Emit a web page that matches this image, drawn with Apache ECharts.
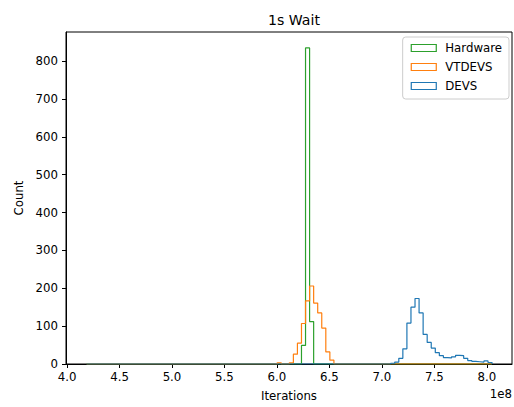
<!DOCTYPE html>
<html>
<head>
<meta charset="utf-8">
<script src="https://cdn.jsdelivr.net/npm/echarts@6/dist/echarts.min.js"></script>
<style>
html,body{margin:0;padding:0;background:#fff;}
#chart{width:514px;height:407px;}
</style>
</head>
<body>
<div id="chart"></div>
<script>
// Values in units of 1e8 iterations
const binLo = 4.186;
const binHi = 8.05;
const nBins = 100;
const xTicks = [4.0, 4.5, 5.0, 5.5, 6.0, 6.5, 7.0, 7.5, 8.0];
const yTicks = [0, 100, 200, 300, 400, 500, 600, 700, 800];
const seriesNames = ['Hardware', 'VTDEVS', 'DEVS'];
const hardwareStartBin = 53;
const hardwareCounts = [49, 835, 112];
const vtdevsStartBin = 47;
const vtdevsCounts = [3, 0, 0, 3, 26, 55, 107, 167, 206, 161, 135, 95, 32, 10];
const devsStartBin = 75;
const devsCounts = [2, 5, 15, 40, 108, 150, 173, 135, 78, 57, 42, 30, 22, 17, 16, 19, 23, 22, 15, 9, 7, 6, 5, 8, 4];

const colors = ['#2ca02c', '#ff7f0e', '#1f77b4'];
const FONT = 'DejaVu Sans';
const FS = 11.75;

function stepData(startBin, counts) {
  const full = new Array(nBins).fill(0);
  counts.forEach((c, i) => { full[startBin + i] = c; });
  const w = (binHi - binLo) / nBins;
  const pts = [[binLo, 0]];
  for (let i = 0; i < nBins; i++) pts.push([binLo + i * w, full[i]]);
  pts.push([binHi, 0]);
  return pts;
}

const allData = [
  stepData(hardwareStartBin, hardwareCounts),
  stepData(vtdevsStartBin, vtdevsCounts),
  stepData(devsStartBin, devsCounts)
];

const chart = echarts.init(document.getElementById('chart'), null, {renderer: 'svg'});
chart.setOption({
  animation: false,
  backgroundColor: '#fff',
  textStyle: {fontFamily: FONT},
  title: {
    text: '1s Wait', left: 289, top: 8, textAlign: 'center',
    textStyle: {fontFamily: FONT, fontSize: 14.1, fontWeight: 'normal', color: '#000'}
  },
  grid: {left: 66, right: 2, top: 32, bottom: 43, show: true, borderColor: '#000', borderWidth: 1, backgroundColor: 'transparent'},
  legend: {
    orient: 'vertical', right: 5, top: 37,
    padding: [5, 7, 7, 8],
    itemGap: 7,
    itemWidth: 25, itemHeight: 7,
    borderColor: '#cccccc', borderWidth: 1, borderRadius: 3,
    backgroundColor: 'rgba(255,255,255,0.8)',
    textStyle: {fontFamily: FONT, fontSize: FS, color: '#000', padding: [0, 0, 0, 4]},
    data: seriesNames.map((n, i) => ({
      name: n, icon: 'rect',
      itemStyle: {color: 'rgba(0,0,0,0)', borderColor: colors[i], borderWidth: 1.2}
    }))
  },
  xAxis: {
    type: 'value', min: 3.99, max: 8.24,
    name: 'Iterations', nameLocation: 'middle', nameGap: 26,
    nameTextStyle: {fontFamily: FONT, fontSize: FS, color: '#000'},
    axisLine: {show: true, onZero: false, lineStyle: {color: '#000', width: 1}},
    axisTick: {show: true, length: 4, lineStyle: {color: '#000', width: 1}, customValues: xTicks},
    axisLabel: {show: true, margin: 7, fontFamily: FONT, fontSize: FS, color: '#000', customValues: xTicks,
      formatter: v => v.toFixed(1)},
    splitLine: {show: false}
  },
  yAxis: {
    type: 'value', min: 0, max: 877,
    name: 'Count', nameLocation: 'middle', nameGap: 38, nameRotate: 90,
    nameTextStyle: {fontFamily: FONT, fontSize: FS, color: '#000'},
    axisLine: {show: true, lineStyle: {color: '#000', width: 1}},
    axisTick: {show: true, length: 4, lineStyle: {color: '#000', width: 1}, customValues: yTicks},
    axisLabel: {show: true, margin: 8, fontFamily: FONT, fontSize: FS, color: '#000', customValues: yTicks},
    splitLine: {show: false}
  },
  graphic: [{
    type: 'text', right: 2, top: 388,
    style: {text: '1e8', fontFamily: FONT, fontSize: FS, fill: '#000'}
  }],
  series: seriesNames.map((n, i) => ({
    name: n, type: 'line', step: 'end', data: allData[i],
    showSymbol: false, symbol: 'none',
    lineStyle: {color: colors[i], width: 1.2},
    itemStyle: {color: colors[i]},
    z: 2 + i
  }))
});
</script>
</body>
</html>
